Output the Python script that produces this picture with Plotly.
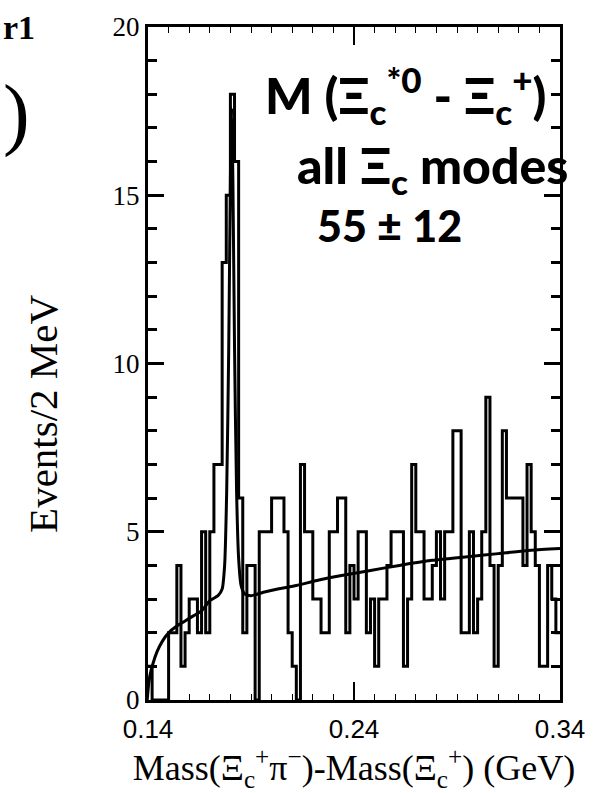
import numpy as np
import plotly.graph_objects as go

# ---------------- data ----------------
x_start = 0.14      # GeV, first bin edge
bin_width = 0.002   # 2 MeV bins
counts = [
    1, 0, 0, 0, 0, 2, 2, 4, 1, 2,
    3, 3, 2, 5, 2, 5, 7, 7, 13, 15,
    18, 16, 6, 2, 4, 4, 0, 5, 5, 5,
    6, 6, 6, 5, 2, 1, 0, 7, 5, 5,
    3, 3, 2, 2, 5, 5, 6, 6, 2, 4,
    3, 5, 5, 2, 3, 1, 3, 3, 4, 5,
    5, 5, 1, 3, 7, 5, 5, 3, 3, 4,
    5, 3, 5, 5, 8, 8, 2, 2, 5, 2,
    3, 5, 9, 4, 1, 4, 8, 6, 6, 6,
    6, 4, 7, 5, 4, 1, 1, 4, 3, 2,
]

fit_x = [0.1396, 0.1402, 0.1410, 0.1425, 0.1445, 0.1470, 0.1500, 0.1540, 0.1580,
         0.1620, 0.1660, 0.1700, 0.1740, 0.1760, 0.1772, 0.1782, 0.1792, 0.1800,
         0.1806, 0.1812, 0.1820, 0.1830, 0.1840, 0.1852, 0.1870, 0.1900, 0.1960,
         0.2030, 0.2120, 0.2220, 0.2340, 0.2480, 0.2620, 0.2780, 0.2940, 0.3100,
         0.3260, 0.3400]
fit_y = [0.0, 0.4, 0.75, 1.1, 1.45, 1.75, 2.0, 2.2, 2.35,
         2.5, 2.65, 2.95, 3.1, 3.3, 4.0, 6.2, 10.5, 15.5,
         17.6, 15.5, 10.5, 6.2, 4.2, 3.4, 3.15, 3.1, 3.2,
         3.3, 3.4, 3.55, 3.7, 3.85, 4.0, 4.15, 4.25, 4.35,
         4.45, 4.5]

x_tick_vals = [0.14, 0.24, 0.34]
x_tick_text = ["0.14", "0.24", "0.34"]
y_tick_vals = [0, 5, 10, 15, 20]
y_tick_text = ["0", "5", "10", "15", "20"]

# ---------------- figure ----------------
edges = x_start + bin_width * np.arange(len(counts) + 1)
step_y = counts + [counts[-1]]

fig = go.Figure()
fig.add_trace(go.Scatter(
    x=edges, y=step_y, mode="lines", line_shape="hv",
    line=dict(color="black", width=3), showlegend=False, hoverinfo="skip"))
fig.add_trace(go.Scatter(
    x=fit_x, y=fit_y, mode="lines", line_shape="spline",
    line=dict(color="black", width=3, smoothing=0.6), showlegend=False, hoverinfo="skip"))

serif = "Liberation Serif, Times New Roman, serif"


def hand(size):
    return dict(family="Lato, Noto Sans, sans-serif", size=size, color="black", weight=900)


fig.update_layout(
    width=597, height=793,
    margin=dict(l=148, r=35, t=18, b=93),
    paper_bgcolor="white", plot_bgcolor="white",
    xaxis=dict(
        range=[0.14, 0.34], tickvals=x_tick_vals, ticktext=x_tick_text,
        ticks="inside", ticklen=18, tickwidth=2, tickcolor="black",
        showline=True, linewidth=3, linecolor="black", mirror="ticks",
        showgrid=False, zeroline=False,
        tickfont=dict(family="Liberation Sans, Arial, sans-serif", size=26, color="black"),
        ticklabelstandoff=4,
        title=dict(
            text="Mass(Ξ<sub>c</sub><sup>+</sup>π<sup>−</sup>)-Mass(Ξ<sub>c</sub><sup>+</sup>) (GeV)",
            font=dict(family=serif, size=36, color="black"), standoff=6),
        minor=dict(ticks="inside", ticklen=6, dtick=0.01, tickcolor="black", tickwidth=1),
    ),
    yaxis=dict(
        range=[0, 20], tickvals=y_tick_vals, ticktext=y_tick_text,
        ticks="inside", ticklen=16, tickwidth=3, tickcolor="black",
        showline=True, linewidth=3, linecolor="black", mirror="ticks",
        showgrid=False, zeroline=False,
        tickfont=dict(family=serif, size=27, color="black"),
        minor=dict(ticks="inside", ticklen=9, dtick=1, tickcolor="black", tickwidth=3),
    ),
    annotations=[
        dict(xref="paper", yref="paper", x=-0.255, y=0.425,
             text="Events/2 MeV", textangle=-90, showarrow=False,
             font=dict(family=serif, size=41, color="black"),
             xanchor="center", yanchor="middle"),
        dict(xref="paper", yref="paper", x=0.626, y=0.899,
             text="M (Ξ<sub>c</sub><sup>*0</sup> - Ξ<sub>c</sub><sup>+</sup>)",
             showarrow=False, font=hand(50), xanchor="center", yanchor="middle"),
        dict(xref="paper", yref="paper", x=0.69, y=0.79,
             text="all Ξ<sub>c</sub> modes",
             showarrow=False, font=hand(50), xanchor="center", yanchor="middle"),
        dict(xref="paper", yref="paper", x=0.585, y=0.705,
             text="55 ± 12",
             showarrow=False, font=hand(43), xanchor="center", yanchor="middle"),
        dict(xref="paper", yref="paper", x=-0.312, y=1.0,
             text="r1", showarrow=False,
             font=dict(family=serif, size=34, color="black", weight=900),
             xanchor="center", yanchor="middle"),
        dict(xref="paper", yref="paper", x=-0.318, y=0.872,
             text=")", showarrow=False,
             font=dict(family=serif, size=80, color="black"),
             xanchor="center", yanchor="middle"),
    ],
)

fig.write_html("out.html")
